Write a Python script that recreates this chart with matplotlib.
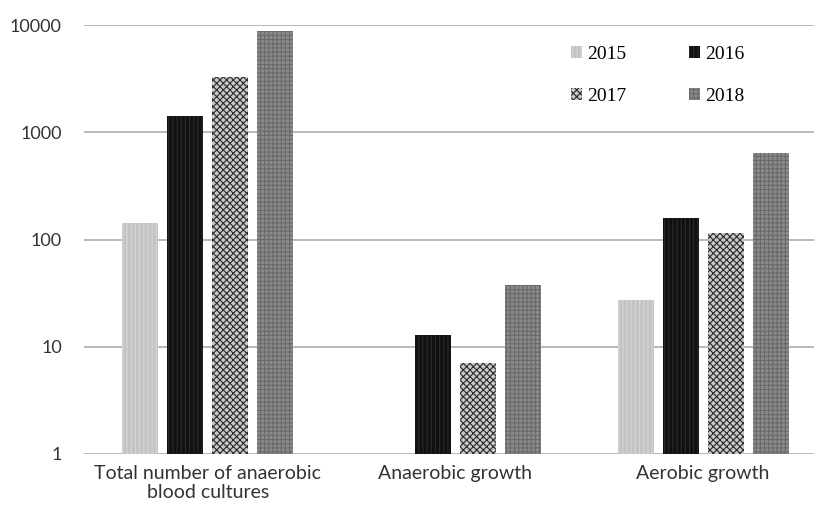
import matplotlib
matplotlib.use("Agg")
import matplotlib.pyplot as plt
import numpy as np

categories = ["Total number of anaerobic\nblood cultures", "Anaerobic growth", "Aerobic growth"]
years = ["2015", "2016", "2017", "2018"]
v2015 = [142, np.nan, 27]
v2016 = [1430, 13, 160]
v2017 = [3300, 7, 114]
v2018 = [8800, 38, 640]
yticks = [1, 10, 100, 1000, 10000]

series = [v2015, v2016, v2017, v2018]
styles = [
    dict(facecolor="#c4c4c4", edgecolor="#d6d6d6", hatch="||||"),
    dict(facecolor="#111111", edgecolor="#2a2a2a", hatch="||||"),
    dict(facecolor="#c8c8c8", edgecolor="#2a2a2a", hatch="xxxxx"),
    dict(facecolor="#8a8a8a", edgecolor="#6a6a6a", hatch="++++"),
]

plt.rcParams["hatch.linewidth"] = 0.8
fig = plt.figure(figsize=(8.14, 5.16), dpi=100)
ax = fig.add_axes([84/814, 1-454/516, (827-84)/814, (454-25)/516])

x = np.arange(len(categories))
width = 0.145
step = 0.182
offsets = [-1.5*step, -0.5*step, 0.5*step, 1.5*step]
handles = []
for vals, off, st, yr in zip(series, offsets, styles, years):
    b = ax.bar(x + off, vals, width, bottom=0, label=yr, linewidth=0, zorder=3, **st)
    handles.append(b)

ax.set_yscale("log")
ax.set_ylim(1, 10000)
ax.set_xlim(-0.5, 2.5)
ax.set_yticks(yticks)
ax.set_yticklabels([str(t) for t in yticks])
ax.yaxis.set_minor_locator(matplotlib.ticker.NullLocator())
ax.set_xticks(x)
ax.set_xticklabels(categories, linespacing=1.15)
for s in ax.spines.values():
    s.set_visible(False)
ax.grid(axis="y", color="#b3b3b3", linewidth=1.3, zorder=0)
ax.tick_params(axis="y", length=0, pad=16, labelsize=13, labelcolor="#333333")
ax.tick_params(axis="x", length=0, pad=8, labelsize=14, labelcolor="#333333")
for lab in ax.get_xticklabels() + ax.get_yticklabels():
    lab.set_fontfamily("Lato")

order = [0, 2, 1, 3]
leg = fig.legend([handles[i] for i in order], [years[i] for i in order],
                 loc="upper left", bbox_to_anchor=(553/814, 1-28/516), ncol=2,
                 frameon=False, prop={"family": "Liberation Serif", "size": 14},
                 handlelength=0.6, handleheight=0.6, handletextpad=0.25,
                 columnspacing=3.2, labelspacing=1.3)
fig.savefig("out.png", dpi=100)
